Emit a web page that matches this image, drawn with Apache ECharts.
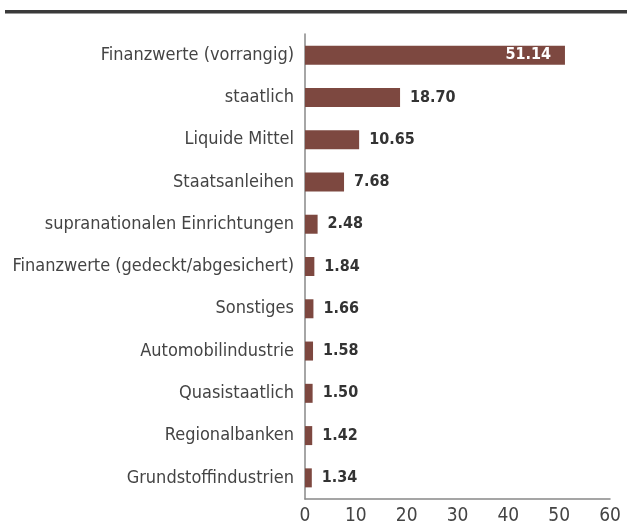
<!DOCTYPE html>
<html><head><meta charset="utf-8">
<script src="https://cdn.jsdelivr.net/npm/echarts@6/dist/echarts.min.js"></script>
<style>html,body{margin:0;padding:0;background:#fff}#c{width:627px;height:528px}</style>
</head><body><div id="c"></div>
<script>
const categories = ["Finanzwerte (vorrangig)","staatlich","Liquide Mittel","Staatsanleihen","supranationalen Einrichtungen","Finanzwerte (gedeckt/abgesichert)","Sonstiges","Automobilindustrie","Quasistaatlich","Regionalbanken","Grundstoffindustrien"];
const values = [51.14,18.70,10.65,7.68,2.48,1.84,1.66,1.58,1.50,1.42,1.34];
const xTicks = [0,10,20,30,40,50,60];
const FONT = "'DejaVu Sans Condensed','Liberation Sans Narrow',sans-serif";
const chart = echarts.init(document.getElementById('c'));
chart.setOption({
  animation:false,
  graphic:[{type:'rect',shape:{x:5,y:10,width:622,height:3},style:{fill:'#3a3a3a'}},
           {type:'rect',shape:{x:5,y:13,width:622,height:1},style:{fill:'#999'}}],
  grid:{left:305,right:17,top:34,bottom:29,containLabel:false},
  xAxis:{type:'value',min:xTicks[0],max:xTicks[xTicks.length-1],interval:10,
    axisLine:{show:true,lineStyle:{color:'#888',width:1.5}},axisTick:{show:false},splitLine:{show:false},
    axisLabel:{color:'#444',fontFamily:FONT,fontSize:19,margin:8}},
  yAxis:{type:'category',inverse:true,data:categories,
    axisLine:{show:true,lineStyle:{color:'#888',width:1.5}},axisTick:{show:false},
    axisLabel:{color:'#444',fontFamily:FONT,fontSize:18,margin:11}},
  series:[{type:'bar',data:values.map((v,i)=>({value:v,label:i===0?{position:'insideRight',color:'#fff',offset:[-4,0]}:{}})),
    barWidth:19,itemStyle:{color:'#7d4840'},
    label:{show:true,position:'right',distance:10,color:'#333',fontFamily:FONT,fontWeight:'bold',fontSize:16,
      formatter:p=>p.value.toFixed(2)}}]
});
</script></body></html>
